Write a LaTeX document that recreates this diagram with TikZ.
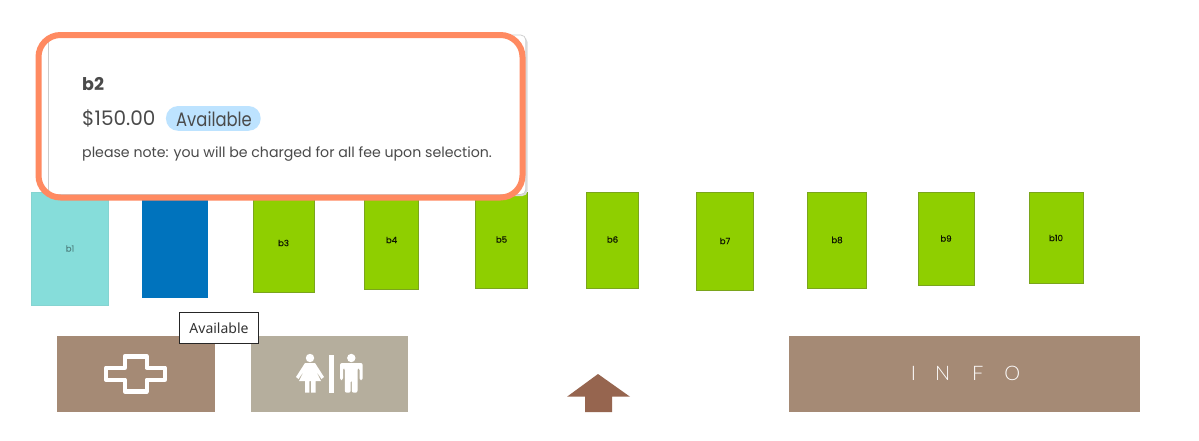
\documentclass[tikz,border=0pt]{standalone}
\usepackage{fontspec}
\setmainfont{Poppins}
\newfontfamily\tipfont{Noto Sans}
\newfontfamily\infofont{Lato Light}
\newfontfamily\medfont[FakeBold=0.25]{Poppins}
\definecolor{seatgreen}{HTML}{8FCF00}
\definecolor{seatedge}{HTML}{7AA51C}
\definecolor{seatteal}{HTML}{86DDDA}
\definecolor{seatblue}{HTML}{0073BD}
\definecolor{ink}{HTML}{4A4A4A}
\definecolor{orangeline}{HTML}{FF8A61}
\definecolor{pill}{HTML}{BDE3FF}
\definecolor{tan}{HTML}{A58A75}
\definecolor{stone}{HTML}{B5AE9D}
\definecolor{arrowbrown}{HTML}{96654F}
\newcommand{\seatbox}[5]{%
  \fill[#4] (#1,192.5) rectangle (#2,#3);
  \draw[#5,line width=.8pt] (#1,192.5) rectangle (#2,#3);
}
\newcommand{\fs}[1]{\fontsize{#1}{#1}\selectfont}
\tikzset{
  seatlabel/.style={inner sep=0pt,font=\medfont\fs{8.6},text=black!90!seatgreen},
  cardtext/.style={anchor=base west,inner sep=0pt,text=ink},
  iconwhite/.style={fill=white,draw=none}
}
\begin{document}
\begin{tikzpicture}[x=1pt,y=-1pt]
\useasboundingbox (0,0) rectangle (1199,440);
\fill[white] (0,0) rectangle (1199,440);
% seats
\seatbox{31.5}{108.5}{305.5}{seatteal}{seatteal!90!gray}
\seatbox{142.5}{207.5}{297.5}{seatblue}{seatblue}
\seatbox{253.5}{314.5}{292.5}{seatgreen}{seatedge}
\seatbox{364.5}{418.5}{289.5}{seatgreen}{seatedge}
\seatbox{475.5}{527.5}{288.5}{seatgreen}{seatedge}
\seatbox{586.5}{638.5}{288.5}{seatgreen}{seatedge}
\seatbox{696.5}{753.5}{290.5}{seatgreen}{seatedge}
\seatbox{807.5}{866.5}{288.5}{seatgreen}{seatedge}
\seatbox{918.5}{974.5}{285.5}{seatgreen}{seatedge}
\seatbox{1029.5}{1083.5}{283.5}{seatgreen}{seatedge}
\node[seatlabel,text=black!40!seatteal] (b1) at (70,248.5) {b1};
\node[seatlabel] (b3) at (283.5,243) {b3};
\node[seatlabel] (b4) at (391.5,240) {b4};
\node[seatlabel] (b5) at (501.5,239.5) {b5};
\node[seatlabel] (b6) at (612.5,239.5) {b6};
\node[seatlabel] (b7) at (725,241) {b7};
\node[seatlabel] (b8) at (837,240) {b8};
\node[seatlabel] (b9) at (946,238.5) {b9};
\node[seatlabel] (b10) at (1056,238) {b10};
% bottom blocks
\fill[tan] (56.5,336) rectangle (214.5,412);
\fill[stone] (250.5,336) rectangle (408,412);
\fill[tan] (789,336) rectangle (1140,412);
% cross icon
\draw[white,line width=4.4pt,line join=round]
  (124.7,356.3) -- (146.7,356.3) -- (146.7,367.7) -- (164.7,367.7) -- (164.7,379.7)
  -- (146.7,379.7) -- (146.7,391.3) -- (124.7,391.3) -- (124.7,379.7) -- (106,379.7)
  -- (106,367.7) -- (124.7,367.7) -- cycle;
% restroom icon
\fill[iconwhite] (310,358) circle (4.2);
\fill[iconwhite] (305,363) -- (315,363) -- (324,377) -- (321.5,379) -- (316,371) -- (321,381)
  -- (315.6,381) -- (315.6,392.7) -- (311,392.7) -- (311,381) -- (309.3,381) -- (309.3,392.7)
  -- (305,392.7) -- (305,381) -- (299,381) -- (304,371) -- (298.5,379) -- (296,377) -- cycle;
\fill[iconwhite] (329,355) rectangle (333.5,392.7);
\fill[iconwhite] (351.3,358) circle (4.2);
\fill[iconwhite,rounded corners=2pt] (340,363) -- (362.7,363) -- (362.7,380) -- (359.5,380)
  -- (359.5,368) -- (357.5,368) -- (357.5,392.7) -- (351.8,392.7) -- (351.8,380) -- (350.7,380)
  -- (350.7,392.7) -- (344.8,392.7) -- (344.8,368) -- (343,368) -- (343,380) -- (340,380) -- cycle;
% arrow
\fill[arrowbrown] (598,374) -- (630,396.7) -- (612,396.7) -- (612,412) -- (585,412)
  -- (585,396.7) -- (567,396.7) -- cycle;
% info text
\node[inner sep=0pt,text=white,font=\infofont\fs{20}] (info) at (965.5,373)
  {I\hspace{19pt}N\hspace{22pt}F\hspace{21pt}O};
% tooltip
\node[draw=black!85,fill=white,line width=1pt,minimum width=79pt,minimum height=31pt,inner sep=0pt,
  font=\tipfont\fs{14},text=black!80] (tip) at (219,327.8) {Available};
% card
\fill[black!14,rounded corners=5pt] (50,37) rectangle (527.5,196);
\fill[white,draw=black!20,line width=.7pt,rounded corners=5pt] (48.5,35) rectangle (525.8,194.5);
\draw[orangeline,line width=6pt,rounded corners=22pt] (38.5,35) rectangle (522.5,197.5);
\node[cardtext,font=\fs{17.5}\bfseries] (title) at (82,90) {b2};
\node[cardtext,font=\fs{20}] (price) at (82,125) {\$150.00};
\node[fill=pill,rounded corners=12pt,minimum width=94.7pt,minimum height=24.7pt,inner sep=0pt] (pillbg) at (213.3,118.4) {};
\node[cardtext,font=\fs{19.5}] (status) at (176,126) {\scalebox{.84}[1]{Available}};
\node[cardtext,font=\fs{14.15}] (note) at (82,157.3) {please note: you will be charged for all fee upon selection.};
\end{tikzpicture}
\end{document}
